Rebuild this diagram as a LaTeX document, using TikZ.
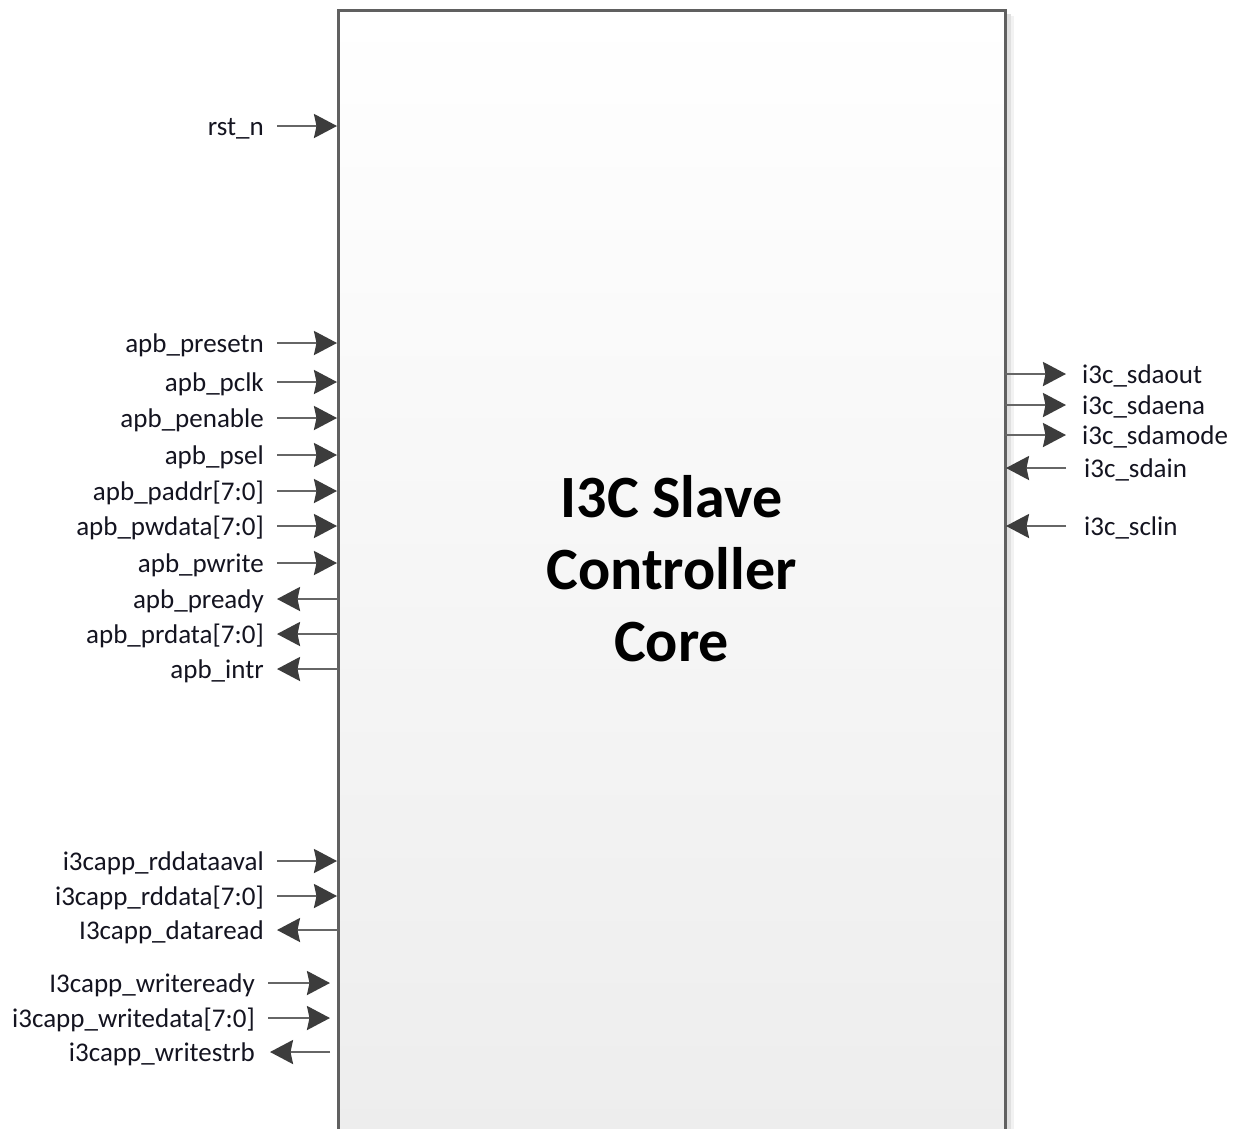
\documentclass[tikz,border=0pt]{standalone}
\usepackage{fontspec}
\setmainfont{Carlito}
\usetikzlibrary{arrows.meta}
\definecolor{edgegray}{HTML}{606060}
\definecolor{wiregray}{HTML}{666666}
\definecolor{tipgray}{HTML}{3C3C3C}
\definecolor{labelink}{HTML}{141420}
\definecolor{boxbottom}{HTML}{EDEDED}
\begin{document}
\begin{tikzpicture}[x=1pt,y=-1pt,
  wire/.style={draw=wiregray, line width=2.4pt,
    -{Stealth[length=23pt,width=24pt,inset=2.5pt,color=tipgray]}},
  pinl/.style={font=\fontsize{27}{27}\selectfont, text=labelink,
    inner sep=0pt, anchor=base east},
  pinr/.style={font=\fontsize{27}{27}\selectfont, text=labelink,
    inner sep=0pt, anchor=base west},
  title/.style={font=\fontsize{60}{72}\selectfont\bfseries, align=center,
    inner sep=0pt, text=black}]
\useasboundingbox (0,0) rectangle (1239,1128);
\fill[white] (0,0) rectangle (1239,1128);

% soft shadow along the right edge of the core
\draw[black!12, line width=4pt] (1009,14) -- (1009,1140);
\draw[black!5, line width=3pt] (1012,16) -- (1012,1140);

% core block
\path[draw=edgegray, line width=3pt, top color=white, bottom color=boxbottom]
  (338,10) rectangle (1005,1140);
\node[title] (core) at (671.5,569) {I3C Slave\\Controller\\Core};

% left-side inputs
\foreach \id/\yy/\txt in {rst/126/rst\_n, presetn/343/apb\_presetn,
    pclk/382/apb\_pclk, penable/418/apb\_penable, psel/455/apb\_psel,
    paddr/491/apb\_paddr[7:0], pwdata/526/apb\_pwdata[7:0],
    pwrite/563/apb\_pwrite, rdaval/861/i3capp\_rddataaval,
    rddata/896/i3capp\_rddata[7:0]}{
  \coordinate (\id-a) at (277,\yy);
  \coordinate (\id-b) at (337,\yy);
  \node[pinl] (\id-l) at (264,\yy+9) {\txt};
  \draw[wire] (\id-a) -- (\id-b);
}

% left-side outputs
\foreach \id/\yy/\txt in {pready/599/apb\_pready,
    prdata/634/apb\_prdata[7:0], intr/669/apb\_intr,
    dread/930/I3capp\_dataread}{
  \coordinate (\id-a) at (338,\yy);
  \coordinate (\id-b) at (277,\yy);
  \node[pinl] (\id-l) at (264,\yy+9) {\txt};
  \draw[wire] (\id-a) -- (\id-b);
}

% application write interface
\foreach \id/\yy/\txt in {wready/983/I3capp\_writeready,
    wdata/1018/i3capp\_writedata[7:0]}{
  \coordinate (\id-a) at (268,\yy);
  \coordinate (\id-b) at (330,\yy);
  \node[pinl] (\id-l) at (255,\yy+9) {\txt};
  \draw[wire] (\id-a) -- (\id-b);
}
\coordinate (wstrb-a) at (330,1052);
\coordinate (wstrb-b) at (270,1052);
\node[pinl] (wstrb-l) at (255,1061) {i3capp\_writestrb};
\draw[wire] (wstrb-a) -- (wstrb-b);

% right-side outputs
\foreach \id/\yy/\txt in {sdaout/374/i3c\_sdaout, sdaena/405/i3c\_sdaena,
    sdamode/435/i3c\_sdamode}{
  \coordinate (\id-a) at (1005,\yy);
  \coordinate (\id-b) at (1066,\yy);
  \node[pinr] (\id-l) at (1082,\yy+9) {\txt};
  \draw[wire] (\id-a) -- (\id-b);
}

% right-side inputs
\foreach \id/\yy/\txt in {sdain/468/i3c\_sdain, sclin/526/i3c\_sclin}{
  \coordinate (\id-a) at (1066,\yy);
  \coordinate (\id-b) at (1006,\yy);
  \node[pinr] (\id-l) at (1084,\yy+9) {\txt};
  \draw[wire] (\id-a) -- (\id-b);
}
\end{tikzpicture}
\end{document}
